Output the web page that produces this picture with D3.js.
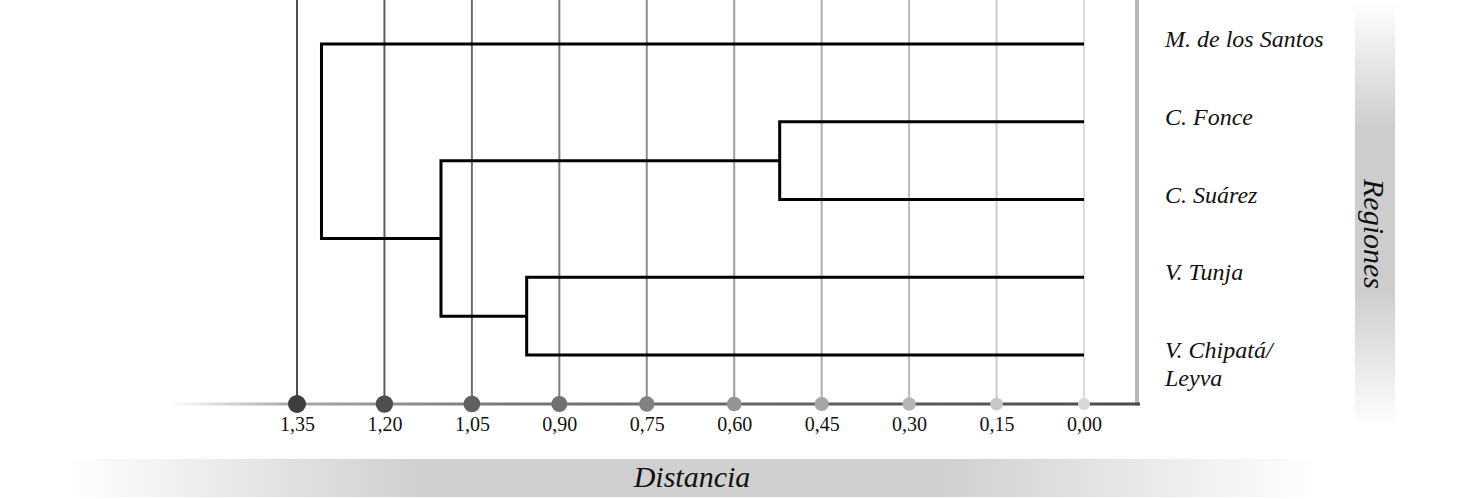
<!DOCTYPE html>
<html>
<head>
<meta charset="utf-8">
<script src="https://cdn.jsdelivr.net/npm/d3@7"></script>
<style>
  body { margin: 0; background: #fff; }
  svg text { font-family: "Liberation Serif", "Times New Roman", serif; }
</style>
</head>
<body>
<div id="chart"></div>
<script>
// leaves, top to bottom
var leaves = ["M. de los Santos", "C. Fonce", "C. Suárez", "V. Tunja", "V. Chipatá/|Leyva"];
// linkage rows: [childA, childB, distance]; index >= leaves.length is a merged cluster
var merges = [
  [1, 2, 0.522],
  [3, 4, 0.956],
  [5, 6, 1.103],
  [0, 7, 1.308]
];
var ticks = [1.35, 1.20, 1.05, 0.90, 0.75, 0.60, 0.45, 0.30, 0.15, 0.00];
var xTitle = "Distancia";
var yTitle = "Regiones";

var W = 1457, H = 499;
var axisY = 404;
var serif = "'Liberation Serif', 'Times New Roman', serif";

var svg = d3.select("#chart").append("svg")
  .attr("width", W)
  .attr("height", H);

var defs = svg.append("defs");

var gDist = defs.append("linearGradient").attr("id", "gDist");
gDist.append("stop").attr("offset", "0%").attr("stop-color", "#fff");
gDist.append("stop").attr("offset", "28%").attr("stop-color", "#d0d0d0");
gDist.append("stop").attr("offset", "70%").attr("stop-color", "#d0d0d0");
gDist.append("stop").attr("offset", "100%").attr("stop-color", "#fff");

var gReg = defs.append("linearGradient").attr("id", "gReg")
  .attr("x1", 0).attr("y1", 0).attr("x2", 0).attr("y2", 1);
gReg.append("stop").attr("offset", "0%").attr("stop-color", "#fff");
gReg.append("stop").attr("offset", "30%").attr("stop-color", "#cdcdcd");
gReg.append("stop").attr("offset", "68%").attr("stop-color", "#cdcdcd");
gReg.append("stop").attr("offset", "100%").attr("stop-color", "#fff");

var gAxis = defs.append("linearGradient").attr("id", "gAxis");
gAxis.append("stop").attr("offset", "0%").attr("stop-color", "#fff");
gAxis.append("stop").attr("offset", "12%").attr("stop-color", "#aaa");
gAxis.append("stop").attr("offset", "35%").attr("stop-color", "#777");
gAxis.append("stop").attr("offset", "100%").attr("stop-color", "#4a4a4a");

var x = d3.scaleLinear().domain([1.35, 0]).range([297, 1084]);
var y = d3.scalePoint().domain(leaves).range([44, 355]);

var shade = d3.scaleLinear().domain([0, ticks.length - 1]).range([0, 1]);
var gridCol = d3.interpolateRgb("#4e4e4e", "#dcdcdc");
var dotCol = d3.interpolateRgb("#3e3e3e", "#d8d8d8");
var dotR = d3.scaleLinear().domain([0, ticks.length - 1]).range([9, 6]);

// title bands
svg.append("rect")
  .attr("x", 65).attr("y", 459).attr("width", 1255).attr("height", 38)
  .attr("fill", "url(#gDist)");
svg.append("text")
  .attr("x", 692).attr("y", 487)
  .attr("text-anchor", "middle")
  .attr("font-family", serif)
  .style("font-size", "30px").style("font-style", "italic")
  .attr("fill", "#111")
  .text(xTitle);

svg.append("rect")
  .attr("x", 1355).attr("y", 0).attr("width", 40).attr("height", 427)
  .attr("fill", "url(#gReg)");
svg.append("text")
  .attr("transform", "translate(1364,234) rotate(90)")
  .attr("text-anchor", "middle")
  .attr("font-family", serif)
  .style("font-size", "30px").style("font-style", "italic")
  .attr("fill", "#111")
  .text(yTitle);

// gridlines
svg.selectAll(".grid")
  .data(ticks)
  .enter().append("line")
  .attr("class", "grid")
  .attr("x1", function(d) { return x(d); })
  .attr("x2", function(d) { return x(d); })
  .attr("y1", 0)
  .attr("y2", axisY)
  .attr("stroke", function(d, i) { return gridCol(shade(i)); })
  .attr("stroke-width", 2);

// frame: right border and axis line
svg.append("line")
  .attr("x1", 1137).attr("x2", 1137).attr("y1", 0).attr("y2", axisY + 2)
  .attr("stroke", "#b8b8b8").attr("stroke-width", 4);
svg.append("rect")
  .attr("x", 170).attr("y", axisY - 1.5).attr("width", 970).attr("height", 3)
  .attr("fill", "url(#gAxis)");

// axis labels
var fmt = function(d) { return d3.format(".2f")(d).replace(".", ","); };
var axis = svg.append("g")
  .attr("transform", "translate(0," + axisY + ")")
  .call(d3.axisBottom(x).tickValues(ticks).tickSize(0).tickPadding(13).tickFormat(fmt))
  .attr("font-family", serif)
  .attr("font-size", 20);
axis.select(".domain").remove();
axis.selectAll("text")
  .attr("fill", "#111");

// dots
svg.selectAll(".dot")
  .data(ticks)
  .enter().append("circle")
  .attr("class", "dot")
  .attr("cx", function(d) { return x(d); })
  .attr("cy", axisY)
  .attr("r", function(d, i) { return dotR(i); })
  .attr("fill", function(d, i) { return dotCol(shade(i)); });

// dendrogram
var nodes = leaves.map(function(name) { return { h: 0, y: y(name) }; });
merges.forEach(function(m) {
  var a = nodes[m[0]], b = nodes[m[1]];
  nodes.push({ h: m[2], y: (a.y + b.y) / 2, a: a, b: b });
});

svg.selectAll(".link")
  .data(nodes.filter(function(n) { return n.a; }))
  .enter().append("path")
  .attr("class", "link")
  .attr("d", function(n) {
    return "M" + x(n.a.h) + "," + n.a.y +
      "H" + x(n.h) +
      "V" + n.b.y +
      "H" + x(n.b.h);
  })
  .attr("fill", "none")
  .attr("stroke", "#000")
  .attr("stroke-width", 3);

// leaf labels
var lab = svg.selectAll(".leaf")
  .data(leaves)
  .enter().append("text")
  .attr("class", "leaf")
  .attr("x", 1165)
  .attr("y", function(d) { return y(d) + 3; })
  .attr("font-family", serif)
  .style("font-size", "24px")
  .style("font-style", "italic")
  .attr("fill", "#111");
lab.selectAll("tspan")
  .data(function(d) { return d.split("|"); })
  .enter().append("tspan")
  .attr("x", 1165)
  .attr("dy", function(d, i) { return i ? 28 : 0; })
  .text(function(d) { return d; });
</script>
</body>
</html>
